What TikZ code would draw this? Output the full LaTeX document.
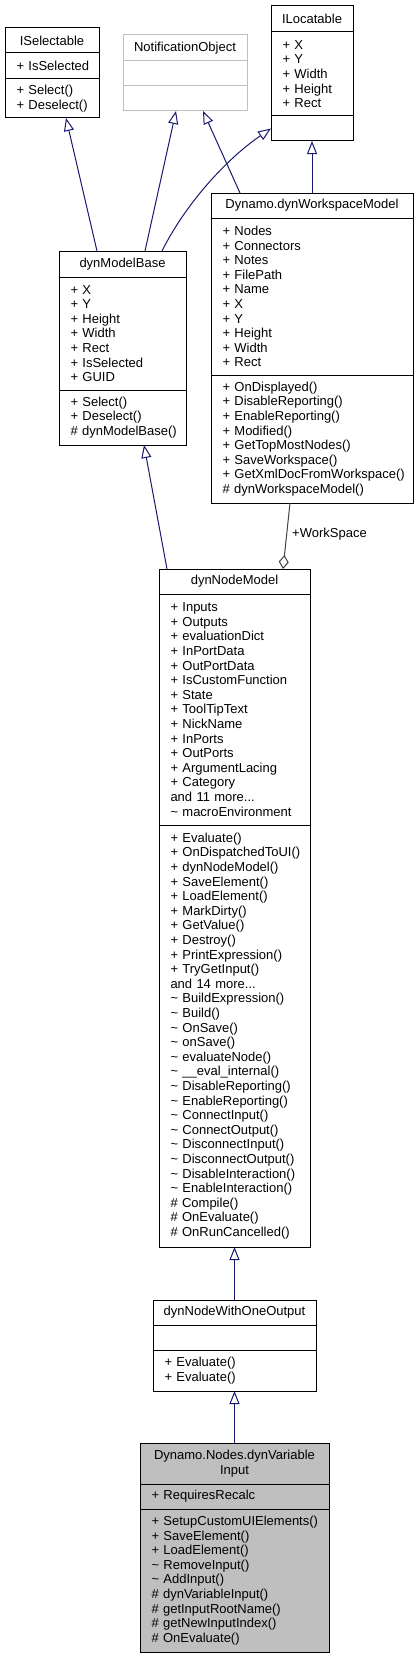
\documentclass[tikz,border=0pt]{standalone}
\usepackage{fontspec}
\setmainfont{Liberation Sans}
\usetikzlibrary{
    arrows.meta,
    positioning
}
\hyphenpenalty=10000
\exhyphenpenalty=10000
\definecolor{edgeblue}{RGB}{25,25,112}
\definecolor{aggrgray}{RGB}{64,64,64}
\definecolor{boxgray}{RGB}{191,191,191}
\tikzset{
    umlfont/.style={font=\fontsize{13pt}{14.6pt}\selectfont},
    classbox/.style={
        rectangle,
        draw=black,
        fill=white,
        line width=1pt,
        outer sep=0pt,
        inner ysep=0pt,
        text=black,
        umlfont
    },
    classtitle/.style={classbox, align=center, inner xsep=0pt},
    classpart/.style={classbox, align=left, inner xsep=11.5pt},
    ghost/.style={draw=boxgray},
    focus/.style={fill=boxgray},
    inherit/.style={
        -{Triangle[open, length=13pt, width=10pt]},
        draw=edgeblue,
        line width=1pt
    },
    usage/.style={
        -{Diamond[open, length=14pt, width=10pt]},
        draw=aggrgray,
        line width=1pt
    },
    rolelabel/.style={umlfont, anchor=west, inner sep=0pt, text=black}
}

\begin{document}
\begin{tikzpicture}[x=1pt, y=-1pt]

\path[fill=white, use as bounding box] (0,0) rectangle (419,1659);

% --- Top row: interfaces ---
\node[classtitle, minimum width=94pt, minimum height=25pt, anchor=north west] (iselect) at (5,28) {ISelectable};
\node[classpart, text width=71pt, minimum height=26pt, below=0pt of iselect] (iselect-attr) {+~IsSelected};
\node[classpart, text width=71pt, minimum height=39pt, below=0pt of iselect-attr] (iselect-meth) {+~Select()\\+~Deselect()};

\node[classtitle, ghost, minimum width=124pt, minimum height=26pt, anchor=north west] (notify) at (123,35) {NotificationObject};
\node[classpart, ghost, text width=101pt, minimum height=25pt, below=0pt of notify] (notify-attr) {};
\node[classpart, ghost, text width=101pt, minimum height=25pt, below=0pt of notify-attr] (notify-meth) {};

\node[classtitle, minimum width=82pt, minimum height=26pt, anchor=north west] (ilocate) at (271,6) {ILocatable};
\node[classpart, text width=59pt, minimum height=84pt, below=0pt of ilocate] (ilocate-attr) {+~X\\+~Y\\+~Width\\+~Height\\+~Rect};
\node[classpart, text width=59pt, minimum height=25pt, below=0pt of ilocate-attr] (ilocate-meth) {};

% --- Second row ---
\node[classtitle, minimum width=202pt, minimum height=25pt, anchor=north west] (workspace) at (211,193) {Dynamo.dynWorkspaceModel};
\node[classpart, text width=179pt, minimum height=157pt, below=0pt of workspace] (workspace-attr) {+~Nodes\\+~Connectors\\+~Notes\\+~FilePath\\+~Name\\+~X\\+~Y\\+~Height\\+~Width\\+~Rect};
\node[classpart, text width=179pt, minimum height=128pt, below=0pt of workspace-attr] (workspace-meth) {+~OnDisplayed()\\+~DisableReporting()\\+~EnableReporting()\\+~Modified()\\+~GetTopMostNodes()\\+~SaveWorkspace()\\+~GetXmlDocFromWorkspace()\\\#~dynWorkspaceModel()};

\node[classtitle, minimum width=127pt, minimum height=26pt, anchor=north west] (modelbase) at (59,251) {dynModelBase};
\node[classpart, text width=104pt, minimum height=113pt, below=0pt of modelbase] (modelbase-attr) {+~X\\+~Y\\+~Height\\+~Width\\+~Rect\\+~IsSelected\\+~GUID};
\node[classpart, text width=104pt, minimum height=55pt, below=0pt of modelbase-attr] (modelbase-meth) {+~Select()\\+~Deselect()\\\#~dynModelBase()};

% --- Node model ---
\node[classtitle, minimum width=151pt, minimum height=25pt, anchor=north west] (nodemodel) at (159,569) {dynNodeModel};
\node[classpart, text width=128pt, minimum height=231pt, below=0pt of nodemodel] (nodemodel-attr) {+~Inputs\\+~Outputs\\+~evaluationDict\\+~InPortData\\+~OutPortData\\+~IsCustomFunction\\+~State\\+~ToolTipText\\+~NickName\\+~InPorts\\+~OutPorts\\+~ArgumentLacing\\+~Category\\and~11~more...\\\textasciitilde~macroEnvironment};
\node[classpart, text width=128pt, minimum height=422pt, below=0pt of nodemodel-attr] (nodemodel-meth) {+~Evaluate()\\+~OnDispatchedToUI()\\+~dynNodeModel()\\+~SaveElement()\\+~LoadElement()\\+~MarkDirty()\\+~GetValue()\\+~Destroy()\\+~PrintExpression()\\+~TryGetInput()\\and~14~more...\\\textasciitilde~BuildExpression()\\\textasciitilde~Build()\\\textasciitilde~OnSave()\\\textasciitilde~onSave()\\\textasciitilde~evaluateNode()\\\textasciitilde~\_\_eval\_internal()\\\textasciitilde~DisableReporting()\\\textasciitilde~EnableReporting()\\\textasciitilde~ConnectInput()\\\textasciitilde~ConnectOutput()\\\textasciitilde~DisconnectInput()\\\textasciitilde~DisconnectOutput()\\\textasciitilde~DisableInteraction()\\\textasciitilde~EnableInteraction()\\\#~Compile()\\\#~OnEvaluate()\\\#~OnRunCancelled()};

% --- Subclasses ---
\node[classtitle, minimum width=163pt, minimum height=25pt, anchor=north west] (oneoutput) at (153,1300) {dynNodeWithOneOutput};
\node[classpart, text width=140pt, minimum height=25pt, below=0pt of oneoutput] (oneoutput-attr) {};
\node[classpart, text width=140pt, minimum height=41pt, below=0pt of oneoutput-attr] (oneoutput-meth) {+~Evaluate()\\+~Evaluate()};

\node[classtitle, focus, minimum width=189pt, minimum height=41pt, anchor=north west] (varinput) at (140,1443) {Dynamo.Nodes.dynVariable\\Input};
\node[classpart, focus, text width=166pt, minimum height=25pt, below=0pt of varinput] (varinput-attr) {+~RequiresRecalc};
\node[classpart, focus, text width=166pt, minimum height=143pt, below=0pt of varinput-attr] (varinput-meth) {+~SetupCustomUIElements()\\+~SaveElement()\\+~LoadElement()\\\textasciitilde~RemoveInput()\\\textasciitilde~AddInput()\\\#~dynVariableInput()\\\#~getInputRootName()\\\#~getNewInputIndex()\\\#~OnEvaluate()};

% --- Inheritance ---
\draw[inherit] ([xshift=-25.5pt]modelbase.north) -- ([xshift=14pt]iselect-meth.south);
\draw[inherit] ([xshift=22.5pt]modelbase.north) -- ([xshift=-9pt]notify-meth.south);
\draw[inherit] ([xshift=-72pt]workspace.north) -- ([xshift=18pt]notify-meth.south);
\draw[inherit] ([xshift=39.5pt]modelbase.north) .. controls (185,205) and (225,160) .. (ilocate-meth.west);
\draw[inherit] (workspace.north) -- (ilocate-meth.south);
\draw[inherit] ([xshift=-67.5pt]nodemodel.north) -- ([xshift=21.5pt]modelbase-meth.south);
\draw[inherit] (oneoutput.north) -- (nodemodel-meth.south);
\draw[inherit] (varinput.north) -- (oneoutput-meth.south);

% --- Aggregation ---
\draw[usage] ([xshift=-22pt]workspace-meth.south) -- node[rolelabel, pos=0.47, xshift=5pt] {+WorkSpace} ([xshift=48.5pt]nodemodel.north);

\end{tikzpicture}
\end{document}
